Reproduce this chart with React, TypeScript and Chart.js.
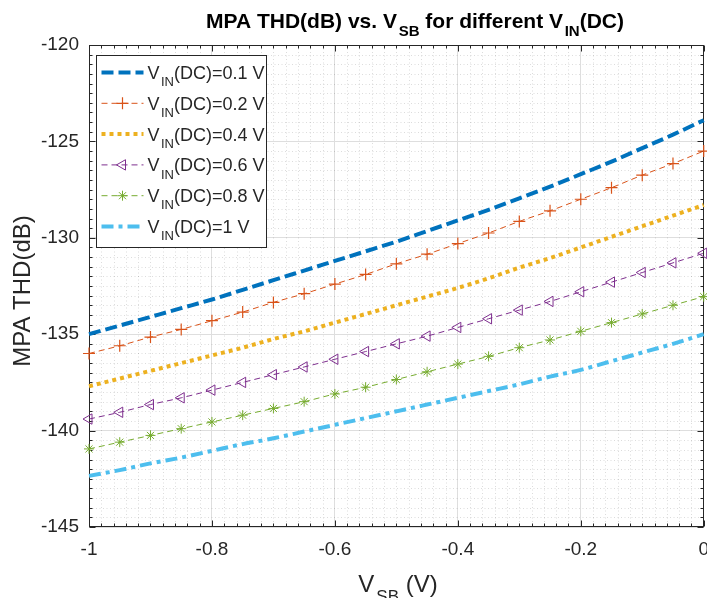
import React, { useEffect, useRef } from "react";
import { Chart, registerables } from "chart.js";

Chart.register(...registerables);

// ---------- data ----------
const vsb = [-1, -0.95, -0.9, -0.85, -0.8, -0.75, -0.7, -0.65, -0.6, -0.55, -0.5, -0.45, -0.4, -0.35, -0.3, -0.25, -0.2, -0.15, -0.1, -0.05, 0];

const thdVin01 = [-135.0, -134.55, -134.1, -133.65, -133.2, -132.7, -132.2, -131.7, -131.2, -130.7, -130.2, -129.65, -129.1, -128.55, -127.95, -127.35, -126.7, -126.05, -125.35, -124.65, -123.9];
const thdVin02 = [-136.0, -135.6, -135.15, -134.75, -134.3, -133.85, -133.35, -132.9, -132.4, -131.9, -131.35, -130.85, -130.3, -129.75, -129.15, -128.6, -128.0, -127.4, -126.75, -126.15, -125.5];
const thdVin04 = [-137.7, -137.3, -136.9, -136.5, -136.1, -135.7, -135.25, -134.85, -134.4, -133.95, -133.5, -133.05, -132.6, -132.1, -131.55, -131.05, -130.5, -129.95, -129.4, -128.85, -128.3];
const thdVin06 = [-139.4, -139.05, -138.65, -138.3, -137.9, -137.5, -137.1, -136.7, -136.3, -135.9, -135.5, -135.1, -134.65, -134.2, -133.75, -133.3, -132.8, -132.3, -131.8, -131.3, -130.8];
const thdVin08 = [-140.95, -140.6, -140.25, -139.9, -139.55, -139.2, -138.85, -138.5, -138.1, -137.75, -137.35, -136.95, -136.55, -136.15, -135.7, -135.3, -134.85, -134.4, -133.95, -133.5, -133.05];
const thdVin10 = [-142.35, -142.05, -141.7, -141.4, -141.05, -140.7, -140.4, -140.05, -139.7, -139.35, -139.0, -138.65, -138.3, -137.95, -137.6, -137.2, -136.85, -136.4, -135.95, -135.5, -135.0];

const vinLabels = ["0.1", "0.2", "0.4", "0.6", "0.8", "1"];

const xTicks = [-1, -0.8, -0.6, -0.4, -0.2, 0];
const yTicks = [-145, -140, -135, -130, -125, -120];
const X_MIN = -1;
const X_MAX = 0;
const Y_MIN = -145;
const Y_MAX = -120;
const X_MINOR = 0.02;
const Y_MINOR = 0.5;

// ---------- styling ----------
const FONT = "'Liberation Sans', Arial, Helvetica, sans-serif";
const INK = "#262626";

type Part = { t: string; sub?: boolean };

function drawRich(
  ctx: CanvasRenderingContext2D,
  parts: Part[],
  x: number,
  y: number,
  size: number,
  bold: boolean,
  align: "left" | "center",
  color: string
) {
  const mainFont = `${bold ? "bold " : ""}${size}px ${FONT}`;
  const subSize = Math.round(size * 0.72);
  const subFont = `${bold ? "bold " : ""}${subSize}px ${FONT}`;
  const widths: number[] = [];
  let total = 0;
  for (const p of parts) {
    ctx.font = p.sub ? subFont : mainFont;
    const w = ctx.measureText(p.t).width + (p.sub ? size * 0.08 : 0);
    widths.push(w);
    total += w;
  }
  let cx = align === "center" ? x - total / 2 : x;
  ctx.textAlign = "left";
  ctx.textBaseline = "alphabetic";
  ctx.fillStyle = color;
  parts.forEach((p, i) => {
    ctx.font = p.sub ? subFont : mainFont;
    ctx.fillText(p.t, p.sub ? cx + size * 0.08 : cx, p.sub ? y + size * 0.4 : y);
    cx += widths[i];
  });
}

function drawMarker(
  ctx: CanvasRenderingContext2D,
  style: string,
  x: number,
  y: number,
  r: number,
  rotationDeg: number
) {
  ctx.beginPath();
  if (style === "cross") {
    ctx.moveTo(x - r, y);
    ctx.lineTo(x + r, y);
    ctx.moveTo(x, y - r);
    ctx.lineTo(x, y + r);
  } else if (style === "triangle") {
    let rad = (rotationDeg * Math.PI) / 180;
    ctx.moveTo(x + Math.sin(rad) * r, y - Math.cos(rad) * r);
    rad += (2 * Math.PI) / 3;
    ctx.lineTo(x + Math.sin(rad) * r, y - Math.cos(rad) * r);
    rad += (2 * Math.PI) / 3;
    ctx.lineTo(x + Math.sin(rad) * r, y - Math.cos(rad) * r);
    ctx.closePath();
  } else if (style === "star") {
    ctx.moveTo(x - r, y);
    ctx.lineTo(x + r, y);
    ctx.moveTo(x, y - r);
    ctx.lineTo(x, y + r);
    const d = r * Math.SQRT1_2;
    ctx.moveTo(x - d, y - d);
    ctx.lineTo(x + d, y + d);
    ctx.moveTo(x - d, y + d);
    ctx.lineTo(x + d, y - d);
  }
  ctx.stroke();
}

const framePlugin = {
  id: "matlabFrame",
  beforeDatasetsDraw(chart: any) {
    const { ctx, chartArea: a, scales } = chart;
    const xs = scales.x;
    const ys = scales.y;
    ctx.save();
    // minor dotted grid
    ctx.strokeStyle = "rgba(38,38,38,0.16)";
    ctx.lineWidth = 1;
    ctx.setLineDash([1, 2.5]);
    const nx = Math.round((X_MAX - X_MIN) / X_MINOR);
    for (let i = 1; i < nx; i++) {
      if (i % 10 === 0) continue;
      const px = Math.round(xs.getPixelForValue(X_MIN + i * X_MINOR)) + 0.5;
      ctx.beginPath();
      ctx.moveTo(px, a.top);
      ctx.lineTo(px, a.bottom);
      ctx.stroke();
    }
    const ny = Math.round((Y_MAX - Y_MIN) / Y_MINOR);
    for (let j = 1; j < ny; j++) {
      if (j % 10 === 0) continue;
      const py = Math.round(ys.getPixelForValue(Y_MIN + j * Y_MINOR)) + 0.5;
      ctx.beginPath();
      ctx.moveTo(a.left, py);
      ctx.lineTo(a.right, py);
      ctx.stroke();
    }
    ctx.setLineDash([]);
    // box
    ctx.strokeStyle = INK;
    ctx.lineWidth = 1;
    const L = Math.round(a.left) + 0.5;
    const R = Math.round(a.right) - 0.5;
    const T = Math.round(a.top) + 0.5;
    const B = Math.round(a.bottom) - 0.5;
    ctx.strokeRect(L, T, R - L, B - T);
    // inward ticks
    ctx.beginPath();
    for (let i = 0; i <= nx; i++) {
      const len = i % 10 === 0 ? 6 : 3;
      const px = Math.round(xs.getPixelForValue(X_MIN + i * X_MINOR)) + 0.5;
      ctx.moveTo(px, B);
      ctx.lineTo(px, B - len);
      ctx.moveTo(px, T);
      ctx.lineTo(px, T + len);
    }
    for (let j = 0; j <= ny; j++) {
      const len = j % 10 === 0 ? 6 : 3;
      const py = Math.round(ys.getPixelForValue(Y_MIN + j * Y_MINOR)) + 0.5;
      ctx.moveTo(L, py);
      ctx.lineTo(L + len, py);
      ctx.moveTo(R, py);
      ctx.lineTo(R - len, py);
    }
    ctx.stroke();
    ctx.restore();
  },
};

const legendPlugin = {
  id: "matlabLegend",
  afterDatasetsDraw(chart: any) {
    const { ctx, chartArea: a } = chart;
    const bx = Math.round(a.left) + 7.5;
    const by = Math.round(a.top) + 10.5;
    const bw = 170;
    const bh = 192;
    ctx.save();
    ctx.fillStyle = "#ffffff";
    ctx.fillRect(bx, by, bw, bh);
    ctx.strokeStyle = INK;
    ctx.lineWidth = 1;
    ctx.setLineDash([]);
    ctx.strokeRect(bx, by, bw, bh);
    chart.data.datasets.forEach((ds: any, i: number) => {
      const cy = by + 17 + i * 30.8;
      ctx.strokeStyle = ds.borderColor;
      ctx.lineWidth = ds.borderWidth;
      ctx.lineCap = "butt";
      ctx.setLineDash(ds.borderDash || []);
      ctx.beginPath();
      ctx.moveTo(bx + 5, cy);
      ctx.lineTo(bx + 47, cy);
      ctx.stroke();
      ctx.setLineDash([]);
      if (ds.pointRadius > 0) {
        ctx.lineWidth = ds.pointBorderWidth;
        drawMarker(ctx, ds.pointStyle, bx + 26, cy, ds.pointRadius, ds.pointRotation || 0);
      }
      drawRich(
        ctx,
        [{ t: "V" }, { t: "IN", sub: true }, { t: `(DC)=${vinLabels[i]} V` }],
        bx + 51,
        cy + 6.5,
        18,
        false,
        "left",
        INK
      );
    });
    ctx.restore();
  },
};

const textPlugin = {
  id: "matlabTexts",
  afterDraw(chart: any) {
    const { ctx } = chart;
    ctx.save();
    drawRich(
      ctx,
      [{ t: "MPA THD(dB) vs. V" }, { t: "SB", sub: true }, { t: " for different V" }, { t: "IN", sub: true }, { t: "(DC)" }],
      415,
      28,
      21,
      true,
      "center",
      "#000000"
    );
    drawRich(ctx, [{ t: "V" }, { t: "SB", sub: true }, { t: " (V)" }], 398, 592, 24, false, "center", INK);
    ctx.translate(30, 291);
    ctx.rotate(-Math.PI / 2);
    drawRich(ctx, [{ t: "MPA THD(dB)" }], 0, 0, 24, false, "center", INK);
    ctx.restore();
  },
};

function pts(ys: number[]) {
  return vsb.map((x, i) => ({ x, y: ys[i] }));
}

export default function App() {
  const ref = useRef<HTMLCanvasElement>(null);

  useEffect(() => {
    if (!ref.current) return;
    const common = {
      fill: false,
      clip: false as any,
      cubicInterpolationMode: "monotone" as const,
      pointBackgroundColor: "rgba(0,0,0,0)",
      pointHoverRadius: 0,
    };
    const chart = new Chart(ref.current, {
      type: "line",
      data: {
        datasets: [
          { ...common, label: "VIN(DC)=0.1 V", data: pts(thdVin01), borderColor: "#0072BD", borderWidth: 4, borderDash: [12, 5], pointRadius: 0 },
          { ...common, label: "VIN(DC)=0.2 V", data: pts(thdVin02), borderColor: "#D95319", borderWidth: 1, borderDash: [6, 4], pointStyle: "cross", pointRadius: 6, pointBorderWidth: 1.2, pointBorderColor: "#D95319" },
          { ...common, label: "VIN(DC)=0.4 V", data: pts(thdVin04), borderColor: "#EDB120", borderWidth: 4, borderDash: [4, 4], pointRadius: 0 },
          { ...common, label: "VIN(DC)=0.6 V", data: pts(thdVin06), borderColor: "#7E2F8E", borderWidth: 1, borderDash: [6, 4], pointStyle: "triangle", pointRotation: -90, pointRadius: 6, pointBorderWidth: 1, pointBorderColor: "#7E2F8E" },
          { ...common, label: "VIN(DC)=0.8 V", data: pts(thdVin08), borderColor: "#77AC30", borderWidth: 1, borderDash: [6, 4], pointStyle: "star", pointRadius: 5, pointBorderWidth: 1, pointBorderColor: "#77AC30" },
          { ...common, label: "VIN(DC)=1 V", data: pts(thdVin10), borderColor: "#4DBEEE", borderWidth: 4, borderDash: [12, 5, 4, 5], pointRadius: 0 },
        ] as any,
      },
      options: {
        animation: false,
        responsive: false,
        devicePixelRatio: 1,
        events: [],
        layout: { padding: { left: 0, top: 45, right: 10, bottom: 31 } },
        plugins: {
          legend: { display: false },
          title: { display: false },
          tooltip: { enabled: false },
        },
        scales: {
          x: {
            type: "linear",
            min: X_MIN,
            max: X_MAX,
            afterBuildTicks: (s: any) => {
              s.ticks = xTicks.map((v) => ({ value: v }));
            },
            afterFit: (s: any) => {
              s.height = 40;
            },
            ticks: {
              font: { family: FONT, size: 19 },
              color: INK,
              padding: 11,
              maxRotation: 0,
              autoSkip: false,
              callback: (v: any) => String(Number(Number(v).toFixed(1))),
            },
            grid: { color: "#dedede", lineWidth: 1, drawTicks: false },
            border: { display: false },
          },
          y: {
            type: "linear",
            min: Y_MIN,
            max: Y_MAX,
            afterBuildTicks: (s: any) => {
              s.ticks = yTicks.map((v) => ({ value: v }));
            },
            afterFit: (s: any) => {
              s.width = 89;
            },
            ticks: {
              font: { family: FONT, size: 19 },
              color: INK,
              padding: 10,
              autoSkip: false,
              callback: (v: any) => String(v),
            },
            grid: { color: "#dedede", lineWidth: 1, drawTicks: false },
            border: { display: false },
          },
        },
      } as any,
      plugins: [framePlugin, legendPlugin, textPlugin],
    });
    return () => chart.destroy();
  }, []);

  return (
    <div
      style={{
        position: "absolute",
        left: 0,
        top: 0,
        width: 707,
        height: 598,
        overflow: "hidden",
        background: "#ffffff",
      }}
    >
      <canvas ref={ref} width={720} height={598} style={{ display: "block", width: 720, height: 598 }} />
    </div>
  );
}
